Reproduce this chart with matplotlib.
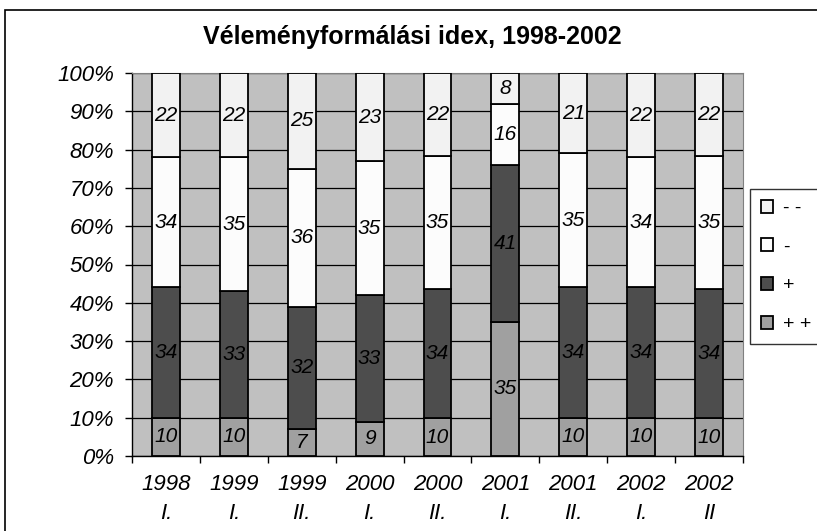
import matplotlib.pyplot as plt
import numpy as np
from matplotlib.patches import Rectangle

plt.rcParams['font.family'] = ['Liberation Sans', 'DejaVu Sans']

# Data (percent shares per survey wave)
years = ['1998', '1999', '1999', '2000', '2000', '2001', '2001', '2002', '2002']
waves = ['I.', 'I.', 'II.', 'I.', 'II.', 'I.', 'II.', 'I.', 'II']
plus_plus = [10, 10, 7, 9, 10, 35, 10, 10, 10]
plus = [34, 33, 32, 33, 34, 41, 34, 34, 34]
minus = [34, 35, 36, 35, 35, 16, 35, 34, 35]
minus_minus = [22, 22, 25, 23, 22, 8, 21, 22, 22]

series = [plus_plus, plus, minus, minus_minus]
names = ['+ +', '+', '-', '- -']
colors = ['#a0a0a0', '#4d4d4d', '#fcfcfc', '#f2f2f2']

vals = np.array(series, dtype=float)
shares = vals / vals.sum(axis=0) * 100

W, H = 817, 531
fig = plt.figure(figsize=(W / 100, H / 100), dpi=100)

# outer chart frame (cut off at right and bottom)
fig.patches.append(Rectangle((5 / W, -0.1), 1.2, 1 - 10 / H + 0.1, transform=fig.transFigure,
                             fill=False, edgecolor='black', linewidth=1.2))

ax = fig.add_axes([132 / W, 1 - 456 / H, 611 / W, 383 / H])
ax.set_facecolor('#c0c0c0')

x = np.arange(len(years))
bottom = np.zeros(len(years))
bars = []
for sh, raw, name, col in zip(shares, vals, names, colors):
    b = ax.bar(x, sh, width=0.41, bottom=bottom, color=col, edgecolor='black',
               linewidth=1.3, label=name, zorder=3)
    bars.append(b)
    for xi, bt, h, r in zip(x, bottom, sh, raw):
        ax.text(xi, bt + h / 2, f'{int(r)}', ha='center', va='center',
                fontsize=15, style='italic', zorder=4)
    bottom += sh

ax.set_xlim(-0.5, len(years) - 0.5)
ax.set_ylim(0, 100)
ax.set_yticks(np.arange(0, 101, 10))
ax.set_yticklabels([f'{v}%' for v in range(0, 101, 10)], fontsize=16, style='italic')
ax.yaxis.grid(True, color='black', linewidth=0.9, zorder=1)

ax.set_xticks(np.arange(-0.5, len(years), 1.0))
ax.set_xticklabels([])
ax.set_xticks(x, minor=True)
ax.set_xticklabels([f'{y}\n{w}' for y, w in zip(years, waves)], minor=True,
                   fontsize=16, style='italic', linespacing=1.5)
ax.tick_params(axis='x', which='minor', length=0, pad=13)
ax.tick_params(axis='x', which='major', length=5, width=1, direction='out')
ax.tick_params(axis='y', length=5, width=1, direction='out', pad=8)

for s in ['top', 'right']:
    ax.spines[s].set_color('#808080')
for s in ['left', 'bottom']:
    ax.spines[s].set_color('black')
    ax.spines[s].set_linewidth(1)

fig.text(412 / W, 1 - 37 / H, 'Véleményformálási idex, 1998-2002', ha='center', va='center',
         fontsize=18, fontweight='bold')

handles = bars[::-1]
leg = fig.legend(handles, names[::-1], loc='upper left', bbox_to_anchor=(750 / W, 1 - 189 / H),
                 frameon=True, fancybox=False, edgecolor='black', fontsize=14,
                 handlelength=0.65, handleheight=0.65, labelspacing=1.1,
                 borderpad=0.55, handletextpad=0.5, borderaxespad=0)
leg.get_frame().set_linewidth(1)

fig.savefig('out.png', dpi=100)
